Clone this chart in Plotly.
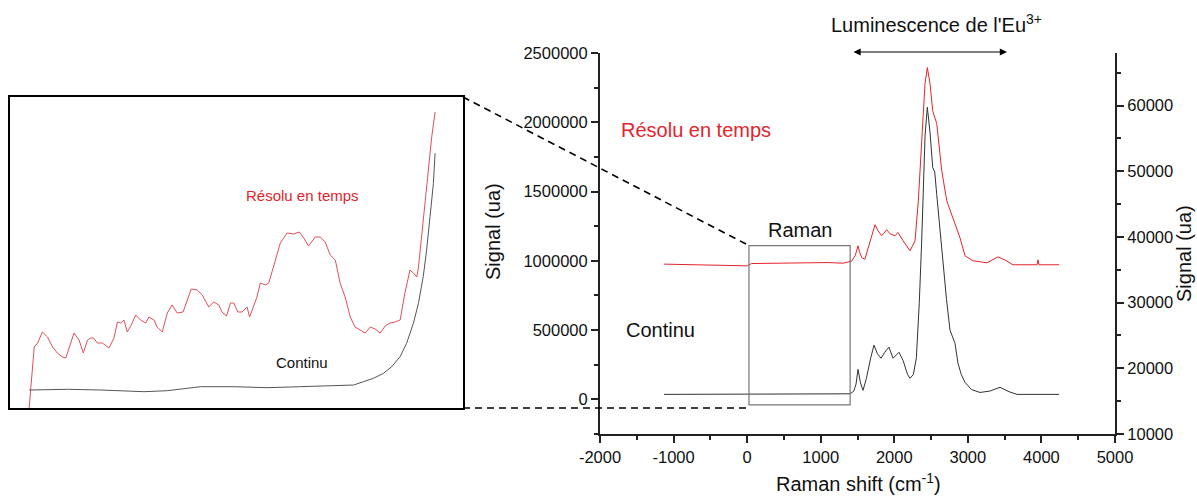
import plotly.graph_objects as go

# continuous spectrum (left axis)
cont_x = [-1130, 1400, 1450, 1480, 1507, 1540, 1575, 1620, 1680, 1724, 1770, 1820, 1870, 1928,
          1983, 2030, 2064, 2120, 2180, 2214, 2260, 2300, 2340, 2373, 2418, 2449, 2486, 2522,
          2550, 2577, 2622, 2662, 2710, 2757, 2800, 2825, 2866, 2910, 2961, 3050, 3165, 3300,
          3437, 3560, 3668, 4240]
cont_y = [36000, 40000, 60000, 110000, 217000, 120000, 65000, 150000, 300000, 391000, 330000,
          297000, 340000, 377000, 297000, 320000, 340000, 280000, 180000, 152000, 180000,
          300000, 700000, 1150000, 1900000, 2108000, 1927000, 1674000, 1640000, 1478000,
          1203000, 985000, 720000, 500000, 430000, 405000, 260000, 180000, 123000, 70000,
          50000, 60000, 87000, 55000, 36000, 36000]

# time resolved spectrum (right axis)
tr_x = [-1130, -600, -100, 0, 60, 400, 800, 1100, 1300, 1420, 1470, 1489, 1507, 1530, 1560,
        1600, 1670, 1738, 1779, 1829, 1897, 1942, 2010, 2050, 2120, 2214, 2282, 2327, 2373,
        2418, 2449, 2486, 2522, 2554, 2577, 2645, 2713, 2825, 2893, 2961, 3070, 3260, 3410,
        3520, 3614, 3940, 3953, 3966, 4240]
tr_y = [35860, 35750, 35620, 35600, 35950, 36000, 36050, 36100, 36000, 36300, 37200, 38200,
        38650, 37600, 36830, 36600, 39410, 41850, 40940, 40180, 41090, 40480, 40180, 40680,
        39410, 37890, 39410, 45500, 54650, 63340, 65780, 63340, 59220, 58210, 57240, 50080,
        45510, 42000, 39870, 37130, 36370, 36060, 36970, 36400, 35760, 35760, 36500, 35760,
        35760]

# inset: zoom of the Raman region (arbitrary units)
in_red_x = [30, 42, 48, 60, 77, 95, 113, 130, 148, 160, 172, 189, 207, 222, 237, 248, 258, 272,
            290, 313, 331, 343, 355, 366, 378, 392, 408, 425, 443, 455, 473, 484, 502, 520, 537,
            555, 576, 591, 605, 626, 644, 667, 685, 703, 714, 730, 744, 756, 770, 785, 803, 812,
            824, 838, 850, 868, 880, 897, 921, 945, 968, 988, 1004, 1021, 1045, 1063, 1080,
            1098, 1116, 1133, 1151, 1169, 1186, 1204, 1222, 1240, 1257, 1275, 1293, 1310, 1328,
            1346, 1363, 1381, 1393, 1405, 1411, 1422, 1434, 1446, 1458, 1470]
in_red_y = [0, 41, 61, 65, 76, 71, 61, 55, 51, 50, 61, 75, 68, 55, 68, 70, 70, 65, 65, 60, 70,
            86, 85, 88, 76, 83, 93, 88, 85, 91, 88, 81, 76, 95, 103, 95, 96, 108, 119, 118, 113,
            101, 106, 103, 96, 92, 105, 105, 96, 96, 101, 91, 101, 111, 125, 123, 125, 141, 165,
            175, 174, 176, 170, 162, 171, 171, 166, 153, 148, 125, 111, 91, 81, 78, 75, 81, 79,
            75, 82, 85, 86, 88, 115, 138, 135, 131, 141, 171, 205, 238, 271, 296]
in_cont_x = [30, 166, 284, 437, 520, 638, 756, 874, 992, 1110, 1181, 1216, 1251, 1287, 1316,
             1346, 1369, 1393, 1411, 1428, 1440, 1452, 1464, 1470]
in_cont_y = [18, 18.7, 18, 16.3, 17.3, 21.3, 21.3, 20.3, 21.3, 22, 23, 26.3, 29.7, 34.7, 41.3,
             51.3, 64.7, 84.7, 104.7, 131.7, 158, 191.3, 224.7, 254.7]

# x tick labels (plain hyphen, as in the original)
x_ticks = [-2000, -1000, 0, 1000, 2000, 3000, 4000, 5000]
x_tick_text = ["-2000", "-1000", "0", "1000", "2000", "3000", "4000", "5000"]

# Raman window drawn on the main plot
raman_box_x = [25, 1400]
raman_box_y = [-40000, 1110000]

W, H = 1197, 497
x_rng = [-2000, 5000]
y_rng = [-250000, 2500000]
x_dom = [600 / W, 1115 / W]
y_dom = [1 - 434 / H, 1 - 53 / H]
ix_dom = [10 / W, 463 / W]
iy_dom = [1 - 408 / H, 1 - 97 / H]

RED = "#e3242b"
FONT = "Liberation Sans, Arial, sans-serif"

fig = go.Figure()
fig.add_trace(go.Scatter(x=cont_x, y=cont_y, mode="lines", xaxis="x", yaxis="y",
                         line=dict(color="#333333", width=1)))
fig.add_trace(go.Scatter(x=tr_x, y=tr_y, mode="lines", xaxis="x", yaxis="y2",
                         line=dict(color=RED, width=1)))
fig.add_trace(go.Scatter(x=in_red_x, y=in_red_y, mode="lines", xaxis="x3", yaxis="y3",
                         line=dict(color="#e0505a", width=1)))
fig.add_trace(go.Scatter(x=in_cont_x, y=in_cont_y, mode="lines", xaxis="x3", yaxis="y3",
                         line=dict(color="#555555", width=1)))

axis_common = dict(showline=True, linecolor="#222222", linewidth=2, ticks="outside",
                   ticklen=7, tickwidth=1.5, tickcolor="#222222", showgrid=False,
                   zeroline=False, automargin=False,
                   tickfont=dict(size=16.5, color="#111111"))
minor_common = dict(ticks="outside", ticklen=4, tickwidth=1.5, tickcolor="#222222",
                    showgrid=False)
inset_axis = dict(showline=True, mirror=True, linecolor="black", linewidth=2,
                  showticklabels=False, ticks="", showgrid=False, zeroline=False,
                  automargin=False)

fig.update_layout(
    width=W, height=H, margin=dict(l=0, r=0, t=0, b=0, pad=0, autoexpand=False),
    plot_bgcolor="white", paper_bgcolor="white", showlegend=False,
    font=dict(family=FONT, color="#111111"),
    xaxis=dict(domain=x_dom, range=x_rng, anchor="y", tickvals=x_ticks,
               ticktext=x_tick_text, minor=dict(dtick=500, **minor_common), **axis_common),
    yaxis=dict(domain=y_dom, range=y_rng, anchor="x", dtick=500000, tick0=0,
               tickformat="d", minor=dict(dtick=250000, tick0=0, **minor_common),
               **axis_common),
    yaxis2=dict(range=[10000, 68000], overlaying="y", side="right", anchor="x",
                dtick=10000, tick0=0, tickformat="d",
                minor=dict(dtick=5000, tick0=0, **minor_common), **axis_common),
    xaxis3=dict(domain=ix_dom, range=[-38, 1569], anchor="y3", **inset_axis),
    yaxis3=dict(domain=iy_dom, range=[0, 311], anchor="x3", **inset_axis),
)

# Raman window
fig.add_shape(type="rect", xref="x", yref="y", x0=raman_box_x[0], x1=raman_box_x[1],
              y0=raman_box_y[0], y1=raman_box_y[1], line=dict(color="#777777", width=1.2))


def to_paper_x(v):
    return x_dom[0] + (v - x_rng[0]) / (x_rng[1] - x_rng[0]) * (x_dom[1] - x_dom[0])


def to_paper_y(v):
    return y_dom[0] + (v - y_rng[0]) / (y_rng[1] - y_rng[0]) * (y_dom[1] - y_dom[0])


dash = dict(color="black", width=1.6, dash="7px,5px")
fig.add_shape(type="line", xref="paper", yref="paper", x0=ix_dom[1], y0=iy_dom[1],
              x1=to_paper_x(raman_box_x[0]), y1=to_paper_y(raman_box_y[1]), line=dash)
fig.add_shape(type="line", xref="paper", yref="paper", x0=ix_dom[1], y0=iy_dom[0],
              x1=to_paper_x(raman_box_x[0]), y1=iy_dom[0], line=dash)

# luminescence arrow
fig.add_annotation(x=3532, xref="x", y=1 - 52 / H, yref="paper", ax=1425, axref="x",
                   ay=0, ayref="pixel", text="", showarrow=True, arrowhead=2,
                   startarrowhead=2, arrowside="end+start", arrowsize=1.2, arrowwidth=1.2,
                   arrowcolor="black")

notes = [
    dict(text="Luminescence de l'Eu<sup>3+</sup>", x=936 / W, y=1 - 24 / H, xref="paper",
         yref="paper", xanchor="center", yanchor="middle", font=dict(size=20)),
    dict(text="Résolu en temps", x=-695, y=1942000, xref="x", yref="y",
         font=dict(size=20, color=RED)),
    dict(text="Continu", x=-1184, y=500000, xref="x", yref="y", font=dict(size=20)),
    dict(text="Raman", x=718, y=1224000, xref="x", yref="y", font=dict(size=20)),
    dict(text="Signal (ua)", x=493 / W, y=1 - 232 / H, xref="paper", yref="paper",
         xanchor="center", yanchor="middle", textangle=-90, font=dict(size=20)),
    dict(text="Signal (ua)", x=1, y=1 - 254 / H, xref="paper", yref="paper",
         xanchor="right", yanchor="middle", textangle=-90, font=dict(size=20)),
    dict(text="Raman shift (cm<sup>-1</sup>)", x=858 / W, y=0, xref="paper",
         yref="paper", xanchor="center", yanchor="bottom", font=dict(size=20)),
    dict(text="Résolu en temps", x=999, y=213, xref="x3", yref="y3",
         font=dict(size=15, color=RED)),
    dict(text="Continu", x=999, y=46, xref="x3", yref="y3", font=dict(size=15)),
]
for n in notes:
    fig.add_annotation(showarrow=False, **n)

fig.write_html("out.html", config={"displayModeBar": False},
               post_script="document.body.style.margin='0';")
